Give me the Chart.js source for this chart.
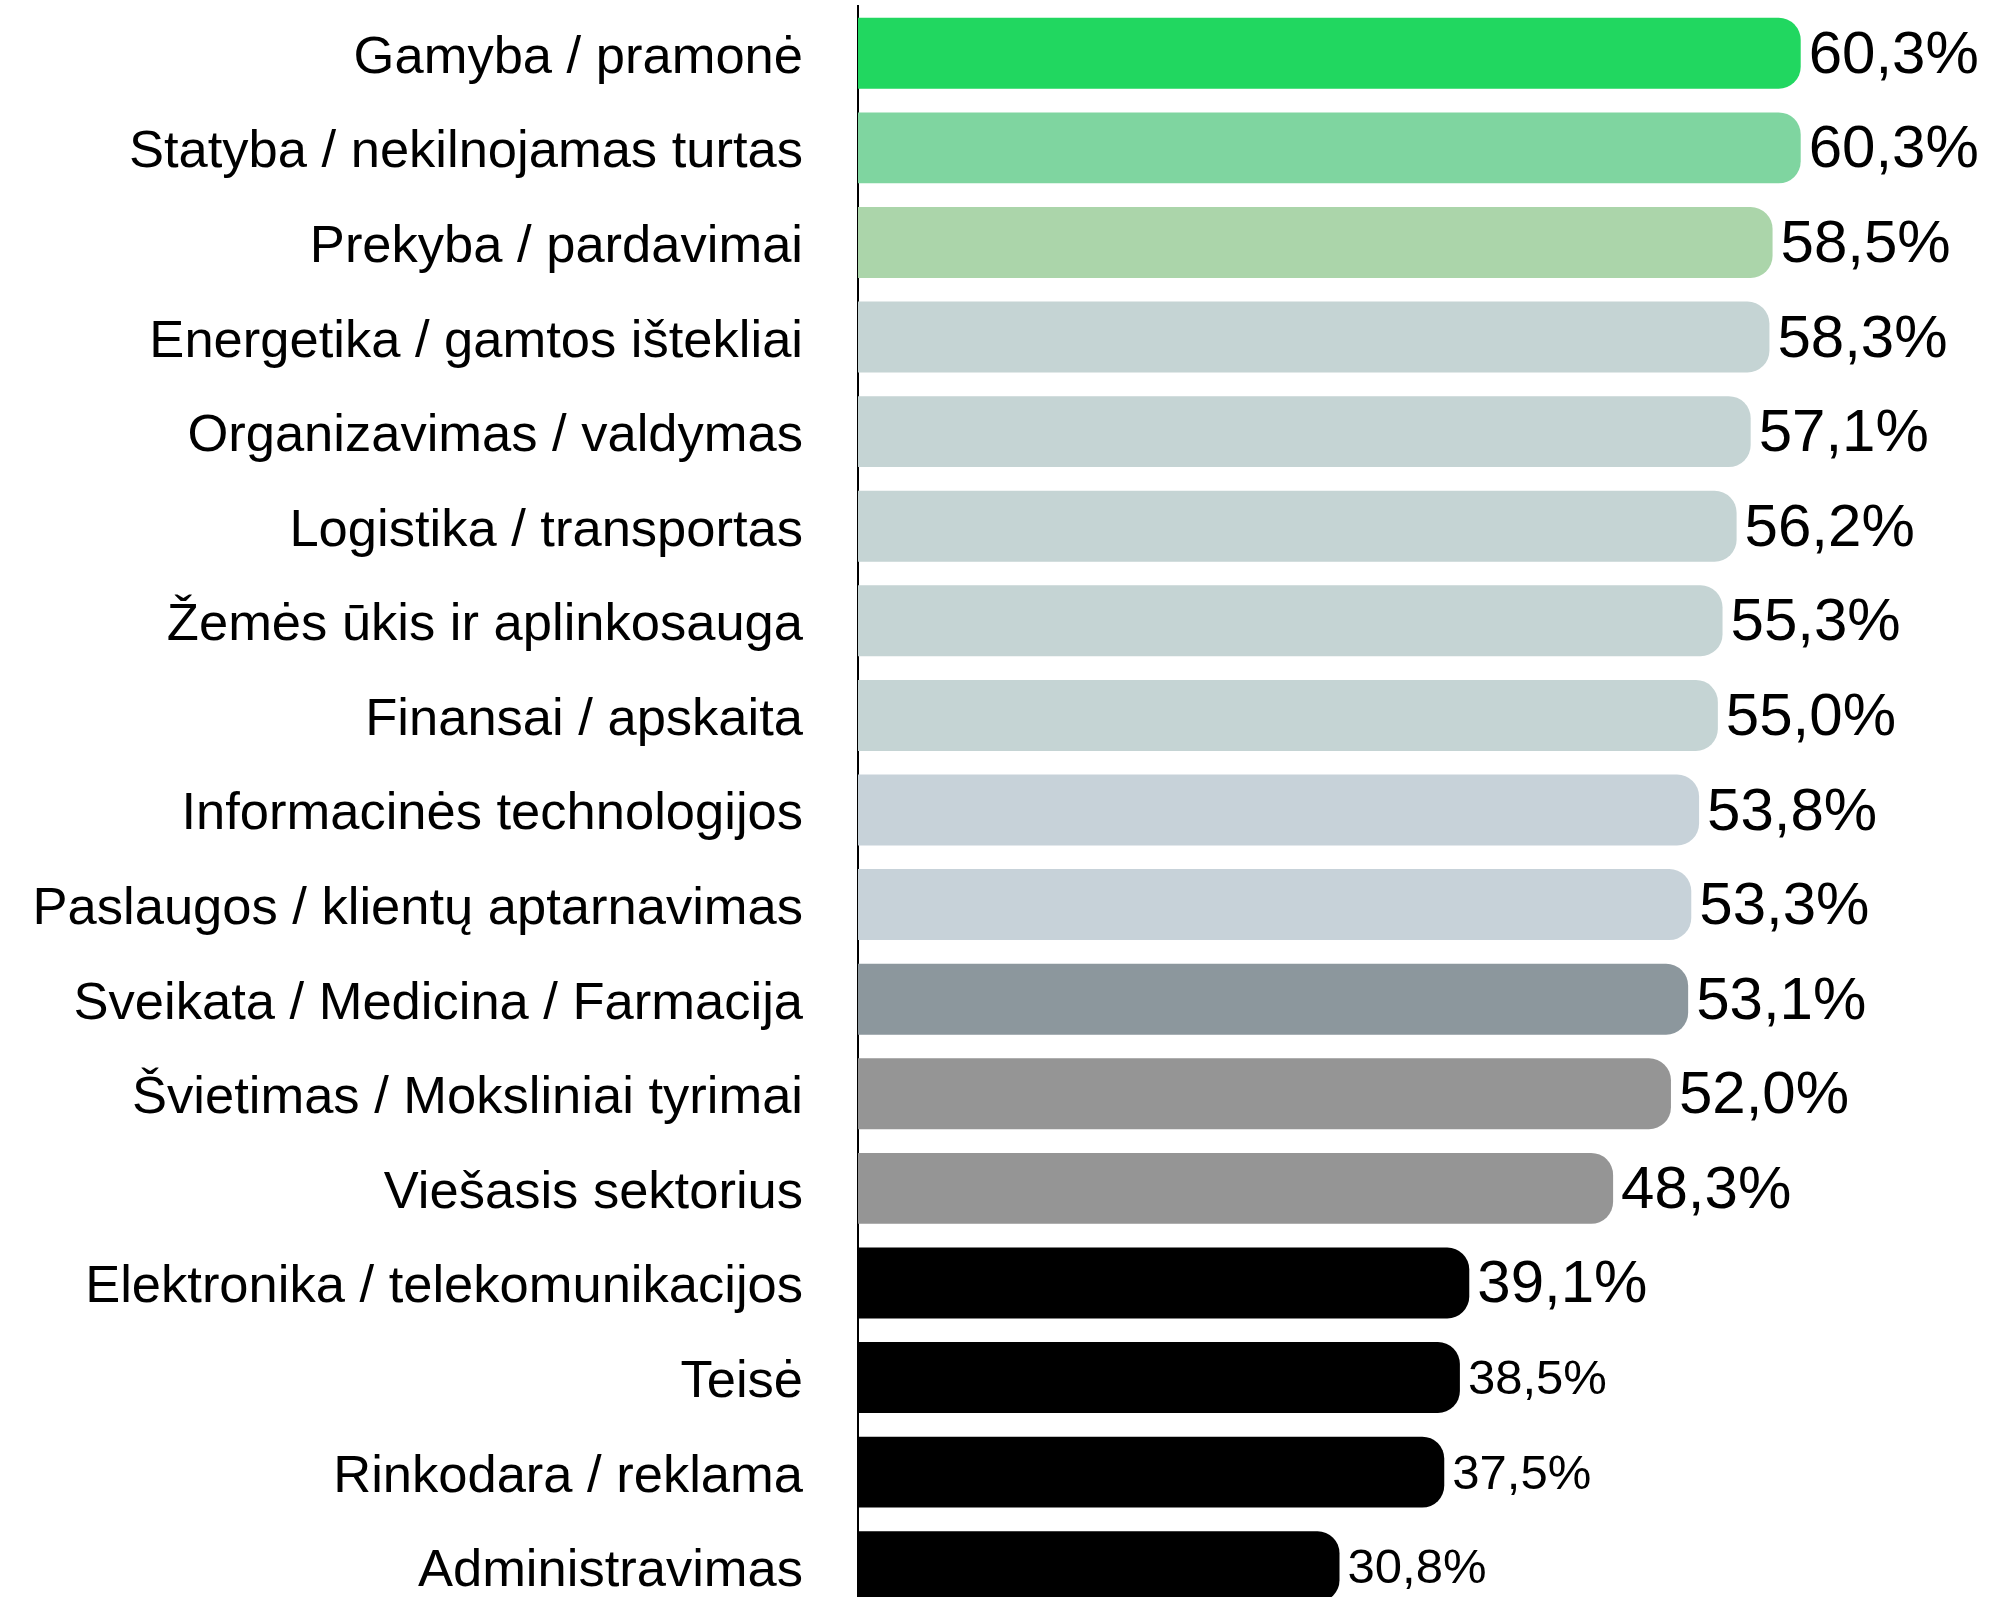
<!DOCTYPE html>
<html>
<head>
<meta charset="utf-8">
<script src="https://cdn.jsdelivr.net/npm/chart.js@4/dist/chart.umd.min.js"></script>
<style>
  html, body { margin: 0; padding: 0; background: #fff; overflow: hidden; }
  #wrap { position: relative; width: 1993px; height: 1614px; }
</style>
</head>
<body>
<div id="wrap"><canvas id="c"></canvas></div>
<script>
const categories = [
  "Gamyba / pramonė",
  "Statyba / nekilnojamas turtas",
  "Prekyba / pardavimai",
  "Energetika / gamtos ištekliai",
  "Organizavimas / valdymas",
  "Logistika / transportas",
  "Žemės ūkis ir aplinkosauga",
  "Finansai / apskaita",
  "Informacinės technologijos",
  "Paslaugos / klientų aptarnavimas",
  "Sveikata / Medicina / Farmacija",
  "Švietimas / Moksliniai tyrimai",
  "Viešasis sektorius",
  "Elektronika / telekomunikacijos",
  "Teisė",
  "Rinkodara / reklama",
  "Administravimas"
];
const values = [60.3, 60.3, 58.5, 58.3, 57.1, 56.2, 55.3, 55.0, 53.8, 53.3, 53.1, 52.0, 48.3, 39.1, 38.5, 37.5, 30.8];

const barColors = [
  "#21D760", "#7FD5A0", "#ABD5AA",
  "#C5D4D4", "#C5D4D4", "#C5D4D4", "#C5D4D4", "#C5D4D4",
  "#C7D2D9", "#C7D2D9",
  "#8C979D",
  "#959595", "#959595",
  "#000000", "#000000", "#000000", "#000000"
];
const valueFontSizes = [60,60,60,60,60,60,60,60,60,60,60,60,60,60,49,49,49];

const FONT = "'Liberation Sans', Arial, Helvetica, sans-serif";

const valueLabels = {
  id: 'valueLabels',
  afterDatasetsDraw(chart) {
    const ctx = chart.ctx;
    const meta = chart.getDatasetMeta(0);
    ctx.save();
    ctx.fillStyle = '#000';
    ctx.textAlign = 'left';
    ctx.textBaseline = 'middle';
    meta.data.forEach((bar, i) => {
      ctx.font = valueFontSizes[i] + 'px ' + FONT;
      const txt = values[i].toFixed(1).replace('.', ',') + '%';
      ctx.fillText(txt, bar.x + 8, bar.y + 3);
    });
    ctx.restore();
  }
};

new Chart(document.getElementById('c'), {
  type: 'bar',
  data: {
    labels: categories,
    datasets: [{
      data: values,
      backgroundColor: barColors,
      borderWidth: 0,
      borderRadius: { topLeft: 0, bottomLeft: 0, topRight: 22, bottomRight: 22 },
      borderSkipped: false,
      barPercentage: 0.75,
      categoryPercentage: 1.0
    }]
  },
  options: {
    indexAxis: 'y',
    responsive: true,
    maintainAspectRatio: false,
    animation: false,
    devicePixelRatio: 1,
    layout: { padding: { top: 6, right: 0, bottom: 0, left: 0 } },
    plugins: { legend: { display: false }, tooltip: { enabled: false } },
    scales: {
      x: {
        display: false,
        min: 0,
        max: 72.6
      },
      y: {
        grid: { display: false, drawTicks: true, tickLength: 55 },
        border: { display: true, color: '#000', width: 2 },
        ticks: {
          color: '#000',
          padding: 0,
          labelOffset: 5,
          font: { family: FONT, size: 52.5 }
        },
        afterFit(scale) {
          scale.width = 858;
          scale.paddingTop = 0;
          scale.paddingBottom = 0;
        }
      }
    }
  },
  plugins: [valueLabels]
});
</script>
</body>
</html>
